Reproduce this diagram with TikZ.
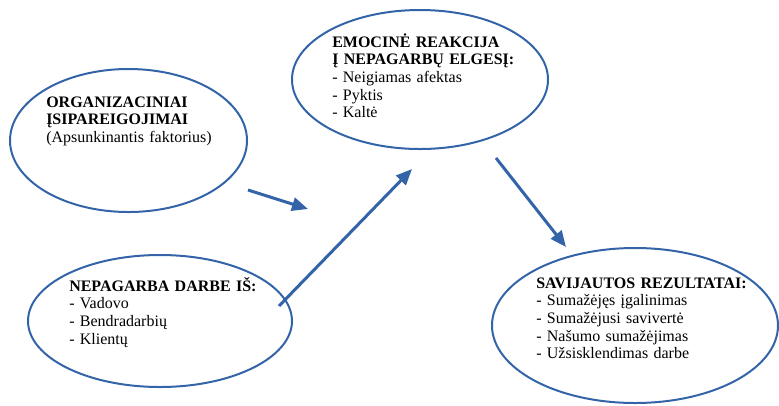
\documentclass[tikz,border=0pt]{standalone}
\usepackage{fontspec}
\setmainfont{Liberation Serif}
\usetikzlibrary{shapes.geometric,arrows.meta}
\definecolor{melyna}{HTML}{3464A8}

\begin{document}
\begin{tikzpicture}[x=0.75pt, y=-0.75pt,
    oval/.style={draw=melyna, line width=1.5pt, ellipse, inner sep=0pt},
    rodykle/.style={-{Triangle[length=12pt,width=10pt]}, draw=melyna, line width=2.25pt},
    tekstas/.style={anchor=base west, inner sep=0pt, text width=180pt, align=left, font=\fontsize{12}{13.3}\selectfont}]

\useasboundingbox (0,0) rectangle (779,405);

% ovalai
\node[oval, minimum width=177.75pt, minimum height=107.25pt] (org) at (128.5,140.5) {};
\node[oval, minimum width=192pt, minimum height=104.25pt] (emo) at (420,79.5) {};
\node[oval, minimum width=198pt, minimum height=99pt] (nep) at (160,321) {};
\node[oval, minimum width=214.5pt, minimum height=116.25pt] (sav) at (635,325.5) {};

% tekstai
\node[tekstas] (orgtxt) at (46,107) {\textbf{ORGANIZACINIAI}\\ \textbf{ĮSIPAREIGOJIMAI}\\ (Apsunkinantis faktorius)};
\node[tekstas] (emotxt) at (332,47) {\textbf{EMOCINĖ REAKCIJA}\\ \textbf{Į NEPAGARBŲ ELGESĮ:}\\ - Neigiamas afektas\\ - Pyktis\\ - Kaltė};
\node[tekstas] (neptxt) at (69,291) {\textbf{NEPAGARBA DARBE IŠ:}\\ - Vadovo\\ - Bendradarbių\\ - Klientų};
\node[tekstas] (savtxt) at (536,288) {\textbf{SAVIJAUTOS REZULTATAI:}\\ - Sumažėjęs įgalinimas\\ - Sumažėjusi savivertė\\ - Našumo sumažėjimas\\ - Užsisklendimas darbe};

% rodyklės
\coordinate (r1a) at (248,190);
\coordinate (r1b) at (308,209);
\coordinate (r2a) at (279,306);
\coordinate (r2b) at (412,169);
\coordinate (r3a) at (496,158);
\coordinate (r3b) at (566,247);
\draw[rodykle] (r1a) -- (r1b);
\draw[rodykle] (r2a) -- (r2b);
\draw[rodykle] (r3a) -- (r3b);

\end{tikzpicture}
\end{document}
